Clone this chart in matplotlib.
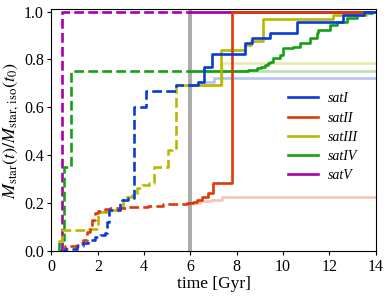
import numpy as np
import matplotlib
matplotlib.use("Agg")
import matplotlib.pyplot as plt
from matplotlib.lines import Line2D

plt.rcParams['font.family'] = ['Liberation Serif', 'DejaVu Serif']
plt.rcParams['mathtext.fontset'] = 'stix'

T0 = 6.0
T_END = 14.0

labels = ["satI", "satII", "satIII", "satIV", "satV"]
colors = ["#0a3bd8", "#dd3a08", "#b8b800", "#14a014", "#a800a8"]

satI_t = [0.35, 0.58, 1.1, 1.37, 1.59, 1.88, 2.1, 2.3, 2.4, 2.5, 2.96, 3.03, 3.3, 3.58, 4.08, 5.37,
          6.33, 6.6, 6.92, 8.36, 8.65, 9.44, 10.6, 12.61, 13.5]
satI_y = [0.0, 0.01, 0.02, 0.032, 0.046, 0.057, 0.066, 0.073, 0.12, 0.172, 0.199, 0.213, 0.22, 0.603, 0.67, 0.694,
          0.707, 0.770, 0.824, 0.868, 0.889, 0.91, 0.958, 0.986, 1.0]

satII_t = [0.4, 0.58, 1.09, 1.23, 1.37, 1.52, 1.66, 1.74, 1.88, 2.02, 2.31, 2.53, 2.82, 3.25, 3.68, 4.18, 4.83, 5.84,
           6.13, 6.3, 6.49, 6.78, 6.99, 7.81]
satII_y = [0.0, 0.022, 0.025, 0.032, 0.046, 0.081, 0.109, 0.13, 0.157, 0.168, 0.174, 0.178, 0.181, 0.183, 0.185, 0.188,
           0.196, 0.202, 0.206, 0.213, 0.227, 0.244, 0.283, 1.0]

satIII_t = [0.3, 0.44, 1.6, 2.02, 2.53, 2.96, 3.1, 3.47, 3.68, 3.9, 4.2, 4.44, 5.02, 5.2, 5.38,
            7.33, 8.36, 8.6, 9.15, 12.18, 13.6]
satIII_y = [0.04, 0.088, 0.092, 0.164, 0.171, 0.185, 0.227, 0.234, 0.262, 0.276, 0.283, 0.349, 0.422, 0.429, 0.694,
            0.84, 0.861, 0.878, 0.969, 0.986, 1.0]

satIV_t = [0.28, 0.32, 0.54, 0.83, 8.5, 8.7, 8.87, 9.05, 9.23, 9.35, 9.44, 9.58, 9.87, 10.02, 10.45, 10.74,
           11.17, 11.46, 11.53, 12.04, 12.33, 12.76, 13.19, 13.47, 13.84]
satIV_y = [0.0, 0.046, 0.352, 0.753, 0.755, 0.758, 0.763, 0.77, 0.777, 0.785, 0.791, 0.805, 0.819, 0.847, 0.854, 0.868,
           0.889, 0.91, 0.924, 0.944, 0.958, 0.972, 0.986, 0.993, 1.0]

satV_t = [0.4, 0.47]
satV_y = [0.0, 1.0]

isoI_t = [6.0, 6.33, 7.0]
isoI_y = [0.694, 0.707, 0.724]
isoII_t = [6.0, 6.4, 6.9, 7.35]
isoII_y = [0.202, 0.208, 0.215, 0.227]
isoIII_t = [6.0, 7.35]
isoIII_y = [0.694, 0.784]
isoIV_t = [6.0]
isoIV_y = [0.753]
isoV_t = [6.0]
isoV_y = [1.0]

series = [(satI_t, satI_y), (satII_t, satII_y), (satIII_t, satIII_y), (satIV_t, satIV_y), (satV_t, satV_y)]
iso = [(isoI_t, isoI_y), (isoII_t, isoII_y), (isoIII_t, isoIII_y), (isoIV_t, isoIV_y), (isoV_t, isoV_y)]

fig = plt.figure(figsize=(3.9, 2.97), dpi=100)
ax = fig.add_axes([0.132, 0.155, 0.831, 0.814])

ax.axvline(T0, color='#aaaaaa', lw=2.8, zorder=1)

lw = 1.9
for (t, y), c in zip(iso, colors):
    t = np.array(t + [T_END]); y = np.array(y + [y[-1]])
    ax.plot(t, y, drawstyle='steps-post', color=c, alpha=0.3, lw=lw, zorder=2)

n = len(series)
for i in range(n - 1, -1, -1):
    t, y = series[i]
    c = colors[i]
    t = np.array(t, dtype=float); y = np.array(y, dtype=float)
    y0 = y[t <= T0][-1]
    m1 = t <= T0
    td = np.append(t[m1], T0); yd = np.append(y[m1], y0)
    m2 = t > T0
    ts = np.concatenate([[T0], t[m2], [T_END]])
    ys = np.concatenate([[y0], y[m2], [y[-1]]])
    z = 3 + (n - i)
    ax.plot(td, yd, drawstyle='steps-post', color=c, lw=lw, ls='--', zorder=z)
    ax.plot(ts, ys, drawstyle='steps-post', color=c, lw=lw, ls='-', zorder=z)

handles = [Line2D([], [], color=c, lw=lw) for c in colors]
ax.legend(handles, labels, loc='center left', bbox_to_anchor=(0.69, 0.47), frameon=False,
          prop={'style': 'italic', 'size': 10}, labelspacing=0.45, handlelength=2.2, handletextpad=0.7)

ax.set_xlim(0, 14)
ax.set_ylim(0, 1.01)
ax.set_xticks(np.arange(0, 15, 2))
ax.set_yticks(np.arange(0, 1.01, 0.2))
ax.set_yticklabels(["0.0", "0.2", "0.4", "0.6", "0.8", "1.0"])
ax.tick_params(labelsize=11.5, length=3, width=0.8, direction='out', pad=2.5)
ax.set_xlabel("time [Gyr]", fontsize=12.5, labelpad=1)
ax.set_ylabel(r"$M_{\rm star}(t)/M_{\rm star,\,iso}(t_0)$", fontsize=13, labelpad=2)

fig.savefig("out.png", dpi=100)
